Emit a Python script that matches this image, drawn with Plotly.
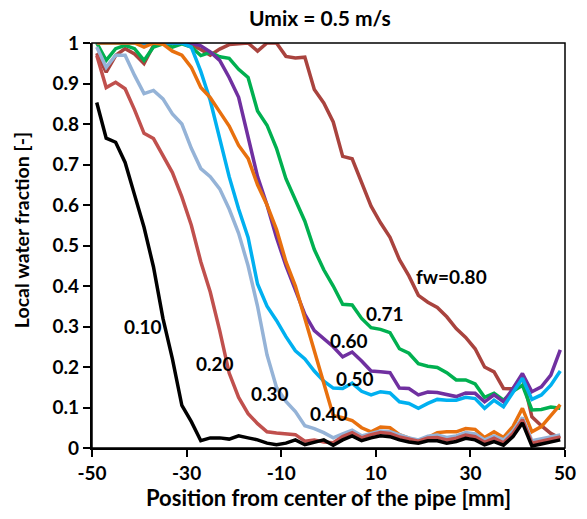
import plotly.graph_objects as go

# Measurement positions across the pipe [mm]
position_mm = [-49, -47, -45, -43, -41, -39, -37, -35, -33, -31,
               -29, -27, -25, -23, -21, -19, -17, -15, -13, -11,
               -9, -7, -5, -3, -1, 1, 3, 5, 7, 9,
               11, 13, 15, 17, 19, 21, 23, 25, 27, 29,
               31, 33, 35, 37, 39, 41, 43, 45, 47, 49]

# Local water fraction profiles for each input water cut (fw)
fw_010 = [0.853, 0.765, 0.755, 0.705, 0.625, 0.545, 0.447, 0.32, 0.22, 0.105,
          0.065, 0.018, 0.025, 0.025, 0.022, 0.03, 0.025, 0.02, 0.012, 0.008,
          0.012, 0.02, 0.008, 0.015, 0.02, 0.007, 0.02, 0.03, 0.018, 0.025,
          0.03, 0.028, 0.02, 0.015, 0.012, 0.018, 0.018, 0.012, 0.016, 0.024,
          0.02, 0.008, 0.016, 0.007, 0.028, 0.062, 0.005, 0.01, 0.015, 0.02]

fw_020 = [0.97, 0.89, 0.903, 0.887, 0.835, 0.777, 0.764, 0.72, 0.68, 0.62,
          0.55, 0.46, 0.385, 0.29, 0.185, 0.125, 0.085, 0.06, 0.04, 0.037,
          0.036, 0.033, 0.017, 0.02, 0.015, 0.013, 0.028, 0.038, 0.025, 0.033,
          0.038, 0.036, 0.027, 0.021, 0.017, 0.025, 0.026, 0.02, 0.024, 0.032,
          0.028, 0.014, 0.024, 0.013, 0.036, 0.07, 0.012, 0.017, 0.022, 0.027]

fw_030 = [0.99, 0.94, 0.97, 0.97, 0.92, 0.875, 0.883, 0.862, 0.825, 0.80,
          0.74, 0.69, 0.67, 0.64, 0.59, 0.53, 0.45, 0.35, 0.23, 0.15,
          0.115, 0.09, 0.055, 0.048, 0.038, 0.025, 0.035, 0.044, 0.03, 0.037,
          0.042, 0.04, 0.032, 0.025, 0.02, 0.029, 0.032, 0.026, 0.03, 0.038,
          0.035, 0.02, 0.03, 0.02, 0.042, 0.075, 0.018, 0.022, 0.028, 0.032]

fw_040 = [1.0, 1.0, 1.0, 1.0, 1.0, 0.99, 1.0, 0.997, 0.98, 0.97,
          0.94, 0.89, 0.865, 0.83, 0.795, 0.747, 0.715, 0.65, 0.60, 0.54,
          0.46, 0.40, 0.32, 0.24, 0.16, 0.08, 0.075, 0.068, 0.05, 0.04,
          0.052, 0.05, 0.033, 0.024, 0.016, 0.026, 0.038, 0.04, 0.04, 0.048,
          0.046, 0.026, 0.04, 0.026, 0.053, 0.098, 0.04, 0.053, 0.08, 0.107]

fw_050 = [1.0, 1.0, 1.0, 1.0, 1.0, 1.0, 1.0, 1.0, 1.0, 1.0,
          0.99, 0.93, 0.858, 0.765, 0.67, 0.59, 0.52, 0.405, 0.35, 0.315,
          0.275, 0.24, 0.22, 0.19, 0.165, 0.148, 0.147, 0.16, 0.14, 0.131,
          0.139, 0.136, 0.114, 0.11, 0.098, 0.11, 0.12, 0.118, 0.118, 0.125,
          0.122, 0.098, 0.118, 0.102, 0.139, 0.172, 0.12, 0.131, 0.155, 0.19]

fw_060 = [1.0, 1.0, 1.0, 1.0, 1.0, 1.0, 1.0, 1.0, 1.0, 1.0,
          1.0, 0.993, 0.978, 0.957, 0.915, 0.866, 0.77, 0.67, 0.60, 0.52,
          0.45, 0.39, 0.33, 0.29, 0.27, 0.25, 0.225, 0.237, 0.215, 0.19,
          0.188, 0.186, 0.148, 0.147, 0.131, 0.138, 0.137, 0.131, 0.127, 0.136,
          0.135, 0.114, 0.131, 0.114, 0.147, 0.184, 0.139, 0.151, 0.18, 0.242]

fw_071 = [1.0, 0.957, 0.986, 0.994, 0.986, 0.957, 0.99, 0.998, 0.99, 0.998,
          0.99, 0.969, 0.977, 0.966, 0.962, 0.935, 0.915, 0.832, 0.797, 0.74,
          0.665, 0.61, 0.56, 0.49, 0.44, 0.40, 0.355, 0.353, 0.32, 0.297,
          0.293, 0.285, 0.245, 0.234, 0.208, 0.202, 0.199, 0.186, 0.168, 0.168,
          0.158, 0.125, 0.135, 0.118, 0.14, 0.155, 0.094, 0.095, 0.101, 0.098]

fw_080 = [0.975, 0.928, 0.969, 0.986, 0.973, 0.949, 0.994, 1.0, 1.0, 1.0,
          0.995, 0.984, 0.97, 0.985, 0.996, 0.998, 1.0, 0.98, 1.0, 1.0,
          0.967, 0.963, 0.965, 0.885, 0.852, 0.805, 0.72, 0.714, 0.653, 0.597,
          0.556, 0.52, 0.465, 0.425, 0.377, 0.36, 0.347, 0.324, 0.295, 0.273,
          0.245, 0.2, 0.188, 0.147, 0.146, 0.178, 0.077, 0.055, 0.036, 0.024]

series = [
    ("0.10", fw_010, "#000000"),
    ("0.20", fw_020, "#C0504D"),
    ("0.30", fw_030, "#95B3D7"),
    ("0.40", fw_040, "#E8700E"),
    ("0.50", fw_050, "#00B0F0"),
    ("0.60", fw_060, "#7030A0"),
    ("0.71", fw_071, "#00B050"),
    ("0.80", fw_080, "#A9433E"),
]

# Inline curve labels: (text, x, y)
curve_labels = [
    ("0.10", -39.2, 0.30),
    ("0.20", -24.0, 0.209),
    ("0.30", -12.3, 0.135),
    ("0.40", 0.0, 0.086),
    ("0.50", 5.5, 0.172),
    ("0.60", 4.3, 0.265),
    ("0.71", 12.0, 0.333),
    ("fw=0.80", 26.1, 0.424),
]

x_tick_vals = [-50, -30, -10, 10, 30, 50]
x_tick_text = ["-50", "-30", "-10", "10", "30", "50"]
y_tick_vals = [0, 0.1, 0.2, 0.3, 0.4, 0.5, 0.6, 0.7, 0.8, 0.9, 1]
y_tick_text = ["0", "0.1", "0.2", "0.3", "0.4", "0.5", "0.6", "0.7", "0.8", "0.9", "1"]

FONT = "Lato"

fig = go.Figure()
# draw the higher water cuts first so the low ones sit on top near the wall
for name, vals, color in reversed(series):
    fig.add_trace(go.Scatter(
        x=position_mm, y=vals, mode="lines", name=name,
        line=dict(color=color, width=3.5), showlegend=False,
    ))

for text, lx, ly in curve_labels:
    fig.add_annotation(x=lx, y=ly, text=text, showarrow=False,
                       xanchor="center", yanchor="middle",
                       font=dict(family=FONT, size=19, color="#000000", weight=700))

# axis titles
fig.add_annotation(xref="paper", yref="paper", x=0.499, y=-0.122,
                   xanchor="center", yanchor="middle",
                   text="Position from center of the pipe [mm]", showarrow=False,
                   font=dict(family=FONT, size=22, color="#000000", weight=700))
fig.add_annotation(xref="paper", yref="paper", x=-0.15, y=0.538,
                   xanchor="center", yanchor="middle",
                   text="Local water fraction [-]", showarrow=False, textangle=-90,
                   font=dict(family=FONT, size=19.5, color="#000000", weight=700))

# plot frame (top and right edges)
fig.add_shape(type="rect", xref="paper", yref="paper", x0=0, y0=0, x1=1, y1=1,
              line=dict(color="#000000", width=1.5), layer="above")

fig.update_layout(
    width=587, height=519,
    margin=dict(l=92, r=22, t=42.5, b=71),
    paper_bgcolor="white", plot_bgcolor="white",
    title=dict(text="Umix = 0.5 m/s", x=0.545, xref="container", xanchor="center",
               y=1 - 19 / 519, yref="container", yanchor="middle",
               font=dict(family=FONT, size=21, color="#000000", weight=700)),
    xaxis=dict(range=[-50, 50], tickvals=x_tick_vals, ticktext=x_tick_text,
               showgrid=False, zeroline=False, showline=True, linecolor="#000000",
               linewidth=2.2, ticks="outside", ticklen=7, tickwidth=2, tickcolor="#000000",
               tickfont=dict(family=FONT, size=19, color="#000000", weight=700)),
    yaxis=dict(range=[0, 1], tickvals=y_tick_vals, ticktext=y_tick_text,
               showgrid=False, zeroline=False, showline=True, linecolor="#000000",
               linewidth=2.2, ticks="outside", ticklen=7, tickwidth=2, tickcolor="#000000",
               tickfont=dict(family=FONT, size=19, color="#000000", weight=700)),
)

fig.write_html("out.html")
